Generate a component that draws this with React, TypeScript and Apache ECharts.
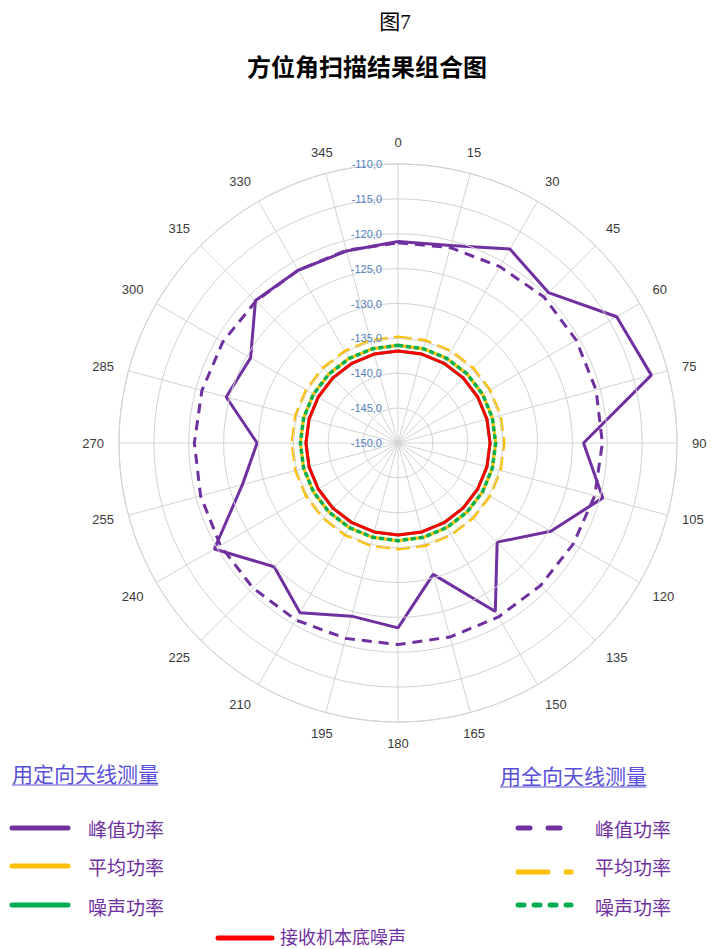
import React, { useEffect, useRef } from "react";
import * as echarts from "echarts";

// Azimuth angles (degrees)
const angles = [0, 15, 30, 45, 60, 75, 90, 105, 120, 135, 150, 165, 180, 195, 210, 225, 240, 255, 270, 285, 300, 315, 330, 345];

// Directional antenna measurements (dBm)
const dirPeak = [-121.1, -120.7, -117.9, -119.5, -113.8, -112.4, -123.4, -119.6, -124.7, -129.9, -122.1, -130.5, -123.5, -124.3, -121.9, -124.9, -119.6, -126.9, -129.8, -124.5, -125.6, -121.1, -121.4, -121.5];
const dirAvg = [-136.0, -136.0, -136.0, -136.0, -136.0, -136.0, -136.0, -136.0, -136.0, -136.0, -136.0, -136.0, -136.0, -136.0, -136.0, -136.0, -136.0, -136.0, -136.0, -136.0, -136.0, -136.0, -136.0, -136.0];
const dirNoise = [-136.8, -136.8, -136.8, -136.8, -136.8, -136.8, -136.8, -136.8, -136.8, -136.8, -136.8, -136.8, -136.8, -136.8, -136.8, -136.8, -136.8, -136.8, -136.8, -136.8, -136.8, -136.8, -136.8, -136.8];

// Omnidirectional antenna measurements (dBm)
const omniPeak = [-121.3, -121.0, -120.8, -120.4, -120.5, -120.6, -120.7, -120.8, -121.0, -121.1, -121.2, -121.2, -121.1, -121.0, -120.7, -120.6, -120.6, -120.7, -120.8, -120.9, -121.0, -121.2, -121.4, -121.4];
const omniAvg = [-134.8, -134.8, -134.8, -134.8, -134.8, -134.8, -134.8, -134.8, -134.8, -134.8, -134.8, -134.8, -134.8, -134.8, -134.8, -134.8, -134.8, -134.8, -134.8, -134.8, -134.8, -134.8, -134.8, -134.8];
const omniNoise = [-136.0, -136.0, -136.0, -136.0, -136.0, -136.0, -136.0, -136.0, -136.0, -136.0, -136.0, -136.0, -136.0, -136.0, -136.0, -136.0, -136.0, -136.0, -136.0, -136.0, -136.0, -136.0, -136.0, -136.0];

// Receiver noise floor (dBm)
const receiverFloor = [-136.8, -136.8, -136.8, -136.8, -136.8, -136.8, -136.8, -136.8, -136.8, -136.8, -136.8, -136.8, -136.8, -136.8, -136.8, -136.8, -136.8, -136.8, -136.8, -136.8, -136.8, -136.8, -136.8, -136.8];

const radiusMin = -150;
const radiusMax = -110;
const radiusStep = 5;
const angleStep = 15;

const PURPLE = "#7030a0";
const YELLOW = "#ffc000";
const GREEN = "#00b050";
const RED = "#ff0000";
const CJK = "'Noto Sans CJK SC', sans-serif";

// polar data items are [radius, angle]; the first value is repeated at 360° to close the ring
function closed(values: number[]) {
  const pts = values.map((v, i) => [v, angles[i]]);
  pts.push([values[0], 360]);
  return pts;
}

function lineSeries(name: string, values: number[], color: string, width: number, dash?: number[] | "solid") {
  return {
    type: "line",
    name,
    coordinateSystem: "polar",
    data: closed(values),
    symbol: "none",
    smooth: false,
    clip: false,
    lineStyle: { color, width, type: dash || "solid", cap: "butt" },
    itemStyle: { color },
    silent: true,
  };
}

export default function App() {
  const ref = useRef<HTMLDivElement>(null);

  useEffect(() => {
    if (!ref.current) return;
    const chart = echarts.init(ref.current, undefined, { renderer: "svg" });

    const legendText = (x: number, y: number, text: string) => ({
      type: "text",
      x,
      y,
      style: { text, fill: PURPLE, fontSize: 19, fontFamily: CJK, align: "left", verticalAlign: "middle" },
    });
    const legendLine = (x1: number, x2: number, y: number, color: string) => ({
      type: "line",
      shape: { x1, y1: y, x2, y2: y },
      style: { stroke: color, lineWidth: 5, lineCap: "round" },
    });

    chart.setOption({
      animation: false,
      backgroundColor: "#ffffff",
      polar: { center: [398, 443], radius: 279 },
      angleAxis: {
        type: "value",
        min: 0,
        max: 360,
        interval: angleStep,
        startAngle: 90,
        clockwise: true,
        axisLine: { show: true, lineStyle: { color: "#d3d3d3", width: 1 } },
        axisTick: { show: false },
        axisLabel: {
          margin: 15,
          color: "#3a3a3a",
          fontSize: 13,
          fontFamily: "'Liberation Sans', Arial, sans-serif",
          formatter: (v: number) => (v >= 360 ? "" : String(v)),
        },
        splitLine: { show: true, lineStyle: { color: "#d3d3d3", width: 1 } },
      },
      radiusAxis: {
        type: "value",
        min: radiusMin,
        max: radiusMax,
        interval: radiusStep,
        axisLine: { show: false },
        axisTick: { show: false },
        axisLabel: {
          show: true,
          margin: 16,
          color: "#4f81bd",
          fontSize: 11,
          fontFamily: "'Liberation Sans', Arial, sans-serif",
          formatter: (v: number) => v.toFixed(1).replace(".", ","),
        },
        splitLine: { show: true, lineStyle: { color: "#d3d3d3", width: 1 } },
        z: 5,
      },
      series: [
        lineSeries("定向天线 平均功率", dirAvg, YELLOW, 3),
        lineSeries("定向天线 噪声功率", dirNoise, GREEN, 3),
        lineSeries("全向天线 平均功率", omniAvg, YELLOW, 3, [14, 6]),
        lineSeries("全向天线 噪声功率", omniNoise, GREEN, 3.5, [5, 3]),
        lineSeries("接收机本底噪声", receiverFloor, RED, 3),
        lineSeries("全向天线 峰值功率", omniPeak, PURPLE, 3, [10, 7]),
        lineSeries("定向天线 峰值功率", dirPeak, PURPLE, 3),
      ],
      graphic: {
        elements: [
          {
            type: "text",
            x: 395,
            y: 22,
            style: { text: "图7", fill: "#000", fontSize: 21, fontFamily: "'Liberation Serif', 'Noto Sans CJK SC', serif", align: "center", verticalAlign: "middle" },
          },
          {
            type: "text",
            x: 367,
            y: 65,
            style: { text: "方位角扫描结果组合图", fill: "#000", fontSize: 24, fontWeight: "bold", fontFamily: CJK, align: "center", verticalAlign: "middle" },
          },
          {
            type: "text",
            x: 12,
            y: 773,
            style: { text: "用定向天线测量", fill: "#5a50d8", fontSize: 21, fontFamily: CJK, align: "left", verticalAlign: "middle" },
          },
          { type: "line", shape: { x1: 12, y1: 785, x2: 158, y2: 785 }, style: { stroke: "#5a50d8", lineWidth: 1 } },
          {
            type: "text",
            x: 500,
            y: 775,
            style: { text: "用全向天线测量", fill: "#5a50d8", fontSize: 21, fontFamily: CJK, align: "left", verticalAlign: "middle" },
          },
          { type: "line", shape: { x1: 500, y1: 787, x2: 646, y2: 787 }, style: { stroke: "#5a50d8", lineWidth: 1 } },

          legendLine(12, 68, 828, PURPLE),
          legendText(88, 828, "峰值功率"),
          legendLine(12, 68, 866, YELLOW),
          legendText(88, 866, "平均功率"),
          legendLine(12, 68, 905, GREEN),
          legendText(88, 906, "噪声功率"),

          legendLine(218, 272, 938, RED),
          {
            type: "text",
            x: 280,
            y: 936,
            style: { text: "接收机本底噪声", fill: PURPLE, fontSize: 18, fontFamily: CJK, align: "left", verticalAlign: "middle" },
          },

          legendLine(518, 530, 828, PURPLE),
          legendLine(548, 560, 828, PURPLE),
          legendText(595, 828, "峰值功率"),
          legendLine(518, 548, 872, YELLOW),
          legendLine(566, 571, 872, YELLOW),
          legendText(595, 866, "平均功率"),
          legendLine(518, 524, 905, GREEN),
          legendLine(534, 540, 905, GREEN),
          legendLine(550, 556, 905, GREEN),
          legendLine(566, 571, 905, GREEN),
          legendText(595, 906, "噪声功率"),
        ],
      },
    });

    return () => chart.dispose();
  }, []);

  return <div ref={ref} style={{ position: "fixed", left: 0, top: 0, width: 715, height: 949, background: "#fff" }} />;
}
